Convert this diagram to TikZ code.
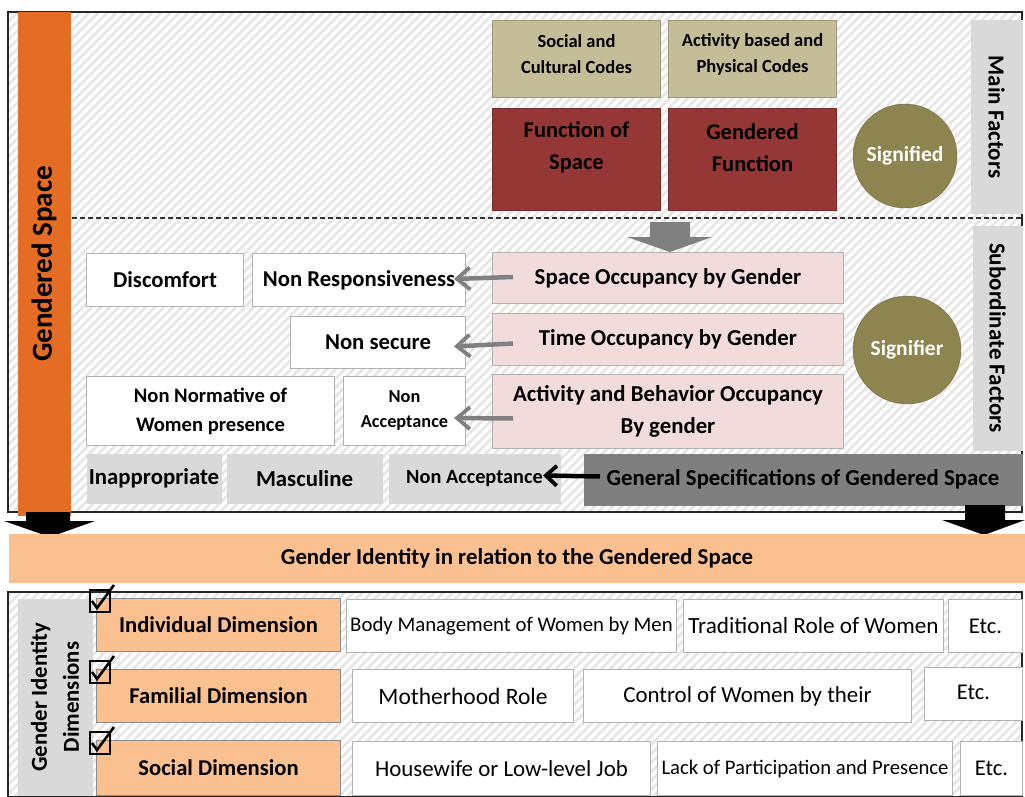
\documentclass[tikz,border=0pt]{standalone}
\usepackage{fontspec}
\setmainfont{Carlito}
\usetikzlibrary{arrows.meta}
\definecolor{obar}{RGB}{228,108,36}
\definecolor{lorange}{RGB}{250,192,144}
\definecolor{tan}{RGB}{196,189,151}
\definecolor{dred}{RGB}{149,55,53}
\definecolor{olive}{RGB}{142,132,80}
\definecolor{lgray}{RGB}{217,217,217}
\definecolor{pink}{RGB}{242,220,219}
\definecolor{dgray}{RGB}{127,127,127}
\definecolor{agray}{RGB}{128,128,128}
\definecolor{hatchc}{RGB}{230,230,230}
\tikzset{
  bx/.style={draw=gray!60, line width=1pt, inner sep=0pt, align=center, anchor=north west, fill=white},
  fb/.style 2 args={font=\fontsize{#1}{#2}\selectfont\bfseries},
  fr/.style 2 args={font=\fontsize{#1}{#2}\selectfont},
  hatch/.style={draw=hatchc, line width=2.6pt},
  garrow/.style={draw=agray, line width=4.5pt, -{Straight Barb[length=13pt,width=22pt,line width=3.8pt]}},
  barrow/.style={draw=black, line width=4.5pt, -{Straight Barb[length=11pt,width=20pt,line width=3.8pt]}},
  circ/.style={circle, fill=olive, draw=olive!80!black, inner sep=0pt, text=white},
  frame/.style={draw=black!85, line width=1.6pt}
}
\begin{document}
\begin{tikzpicture}[x=1pt,y=-1pt]
\useasboundingbox (0,0) rectangle (1025,797);
\fill[white] (0,0) rectangle (1025,797);
% hatched backgrounds
\begin{scope}
\clip (8,12) rectangle (1022,512);
\foreach \i in {-500,-491,...,1030} \draw[hatch] (\i,512) -- ++(500,-500);
\end{scope}
\begin{scope}
\clip (8,592) rectangle (1022,797);
\foreach \i in {-220,-211,...,1030} \draw[hatch] (\i,797) -- ++(220,-220);
\end{scope}
\coordinate (fr1a) at (8,12);
\coordinate (fr1b) at (1022,512);
\draw[frame] (fr1a) rectangle (fr1b);
\coordinate (fr2a) at (8,592);
\coordinate (fr2b) at (1022,797);
\draw[frame] (fr2a) rectangle (fr2b);
% dashed separator
\coordinate (dsa) at (72,218);
\coordinate (dsb) at (1022,218);
\draw[line width=1.2pt, black!80, dash pattern=on 5pt off 3pt] (dsa) -- (dsb);

% orange bar
\node[bx, draw=none, fill=obar, minimum width=53pt, minimum height=503pt] (gs) at (17,12) {};
\node[fb={29}{33}, rotate=90] at (gs.center) {Gendered Space};

% main factors
\node[bx, fill=tan, draw=tan!80!black, minimum width=168pt, minimum height=77pt] (tan1) at (492,20) {};
\node[fb={18.5}{26}, align=center] at ([yshift=5pt]tan1.center) {Social and\\Cultural Codes};
\node[bx, fill=tan, draw=tan!80!black, minimum width=168pt, minimum height=77pt] (tan2) at (668,20) {};
\node[fb={18.5}{26}, align=center] at ([yshift=5pt]tan2.center) {Activity based and\\Physical Codes};
\node[bx, fill=dred, draw=dred!80!black, minimum width=168pt, minimum height=102pt] (red1) at (492,108) {};
\node[fb={22.5}{32}, align=center] at ([yshift=12pt]red1.center) {Function of\\Space};
\node[bx, fill=dred, draw=dred!80!black, minimum width=168pt, minimum height=102pt] (red2) at (668,108) {};
\node[fb={22.5}{32}, align=center] at ([yshift=12pt]red2.center) {Gendered\\Function};
\node[circ, minimum size=104pt, fb={21.5}{24}] (sfd) at (905,156) {Signified};
\node[bx, draw=none, fill=lgray, minimum width=52pt, minimum height=193pt] (mainf) at (970,20) {};
\node[fb={23}{26}, rotate=-90] at (mainf.center) {Main Factors};
\node[bx, draw=none, fill=lgray, minimum width=50pt, minimum height=225pt] (subf) at (972,225) {};
\node[fb={23}{26}, rotate=-90] at (subf.center) {Subordinate Factors};

% gray block arrow
\fill[agray] (650,222) -- (690,222) -- (690,237) -- (712,237) -- (670,252) -- (627,237) -- (650,237) -- cycle;

% pink boxes
\node[bx, fill=pink, minimum width=351pt, minimum height=51pt, fb={22.8}{32}] (p1) at (492,252) {Space Occupancy by Gender};
\node[bx, fill=pink, minimum width=351pt, minimum height=52pt, fb={22.8}{32}] (p2) at (492,313) {Time Occupancy by Gender};
\node[bx, fill=pink, minimum width=351pt, minimum height=74pt, fb={22.8}{32}] (p3) at (492,374) {Activity and Behavior Occupancy\\By gender};
\node[circ, minimum size=108pt, fb={21.5}{24}] (sfr) at (907,350) {Signifier};

% white result boxes
\node[bx, minimum width=157pt, minimum height=53pt, fb={22.7}{26}] (disc) at (86,253) {Discomfort};
\node[bx, minimum width=213pt, minimum height=53pt, fb={22.7}{26}] (nresp) at (252,253) {Non Responsiveness};
\node[bx, minimum width=175pt, minimum height=52pt, fb={22.7}{26}] (nsec) at (290,316) {Non secure};
\node[bx, minimum width=248pt, minimum height=69pt, fb={20.6}{29}] (nnorm) at (86,376) {Non Normative of\\Women presence};
\node[bx, minimum width=122pt, minimum height=69pt, fb={18.3}{25}] (nacc) at (343,376) {Non\\Acceptance};

% bottom row of top frame
\node[bx, draw=none, fill=lgray, minimum width=135pt, minimum height=50pt, fb={22.8}{26}] (inap) at (86,453) {Inappropriate};
\node[bx, draw=none, fill=lgray, minimum width=156pt, minimum height=50pt, fb={22.8}{26}] (masc) at (226,453) {Masculine};
\node[bx, draw=none, fill=lgray, minimum width=172pt, minimum height=50pt, fb={20.3}{24}] (nacc2) at (388,453) {Non Acceptance};
\node[bx, draw=none, fill=dgray, minimum width=439pt, minimum height=52pt, fb={22.8}{26}] (gen) at (583,453) {General Specifications of Gendered Space};

% connectors
\draw[garrow] ([xshift=21pt,yshift=1pt]p1.west) -- ([xshift=-12pt,yshift=1pt]nresp.east);
\draw[garrow] ([xshift=21pt,yshift=-4pt]p2.west) -- ([xshift=-12pt,yshift=-4pt]nsec.east);
\draw[garrow] ([xshift=21pt,yshift=-7pt]p3.west) -- ([xshift=-12pt,yshift=-7pt]nacc.east);
\draw[barrow] ([xshift=17pt,yshift=3pt]gen.west) -- ([xshift=-18pt,yshift=3pt]nacc2.east);

% black block arrows
\fill[black] (26,512) -- (70,512) -- (70,521) -- (95,521) -- (50,537) -- (4,521) -- (26,521) -- cycle;
\fill[black] (965,505) -- (1005,505) -- (1005,520) -- (1025,520) -- (984,535) -- (942,520) -- (965,520) -- cycle;

% band
\node[bx, draw=none, fill=lorange, minimum width=1017pt, minimum height=49pt, fb={22.8}{26}] (band) at (8,533) {Gender Identity in relation to the Gendered Space};

% bottom section
\node[bx, draw=none, fill=lgray, minimum width=75pt, minimum height=197pt] (diml) at (17,598) {};
\node[fb={22.8}{32}, rotate=90, align=center] at (diml.center) {Gender Identity\\Dimensions};
\node[bx, fill=lorange, draw=black!45, minimum width=244pt, minimum height=53pt, fb={22.6}{26}] (d1) at (96,598) {Individual Dimension};
\node[bx, fill=lorange, draw=black!45, minimum width=244pt, minimum height=53pt, fb={22.6}{26}] (d2) at (96,669) {Familial Dimension};
\node[bx, fill=lorange, draw=black!45, minimum width=244pt, minimum height=55pt, fb={22.6}{26}] (d3) at (96,740) {Social Dimension};

\foreach \dy in {0,71,142} {
  \draw[line width=1.6pt] (90,590+\dy) rectangle (110,612+\dy);
  \draw[line width=2.6pt] (92,601+\dy) -- (97,608+\dy) -- (114,585+\dy);
}

\node[bx, minimum width=330pt, minimum height=53pt, fr={20.8}{24}] (r1a) at (346,599) {Body Management of Women by Men};
\node[bx, minimum width=260pt, minimum height=53pt, fr={23.2}{26}] (r1b) at (683,599) {Traditional Role of Women};
\node[bx, minimum width=74pt, minimum height=53pt, fr={22.5}{26}] (r1c) at (948,599) {Etc.};
\node[bx, minimum width=221pt, minimum height=53pt, fr={23.5}{26}] (r2a) at (352,669) {Motherhood Role};
\node[bx, minimum width=328pt, minimum height=53pt, fr={22.9}{26}] (r2b) at (583,669) {Control of Women by their};
\node[bx, minimum width=98pt, minimum height=53pt, fr={22.5}{26}] (r2c) at (924,667) {\raisebox{4pt}{Etc.}};
\node[bx, minimum width=298pt, minimum height=54pt, fr={22.9}{26}] (r3a) at (352,741) {Housewife or Low-level Job};
\node[bx, minimum width=295pt, minimum height=54pt, fr={20.7}{24}] (r3b) at (657,741) {Lack of Participation and Presence};
\node[bx, minimum width=62pt, minimum height=54pt, fr={22.5}{26}] (r3c) at (960,741) {Etc.};
\end{tikzpicture}
\end{document}
